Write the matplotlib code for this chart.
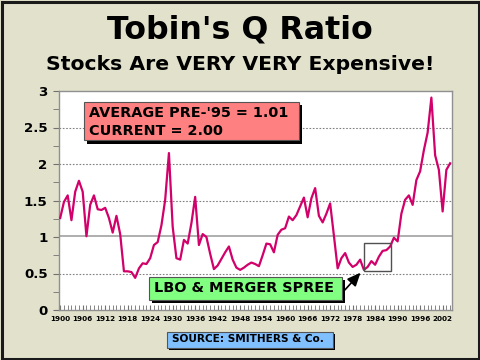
import matplotlib
matplotlib.use("Agg")
import matplotlib.pyplot as plt
from matplotlib.patches import Rectangle
import numpy as np

plt.rcParams["font.family"] = ["DejaVu Sans"]

# ---- data ----
years = list(range(1900, 2005))
q_ratio = [
    1.26, 1.48, 1.57, 1.23, 1.62, 1.77, 1.62, 1.01, 1.44, 1.57,
    1.38, 1.37, 1.40, 1.26, 1.06, 1.29, 1.04, 0.53, 0.53, 0.52,
    0.44, 0.57, 0.64, 0.63, 0.71, 0.89, 0.93, 1.16, 1.51, 2.15,
    1.14, 0.71, 0.69, 0.96, 0.91, 1.19, 1.55, 0.89, 1.04, 1.00,
    0.77, 0.56, 0.61, 0.70, 0.79, 0.87, 0.69, 0.58, 0.55, 0.58,
    0.62, 0.65, 0.63, 0.60, 0.75, 0.91, 0.90, 0.79, 1.03, 1.10,
    1.12, 1.28, 1.23, 1.30, 1.42, 1.54, 1.27, 1.53, 1.67, 1.29,
    1.20, 1.32, 1.46, 1.02, 0.57, 0.71, 0.78, 0.65, 0.59, 0.62,
    0.69, 0.55, 0.59, 0.67, 0.62, 0.73, 0.81, 0.82, 0.87, 0.99,
    0.94, 1.32, 1.51, 1.57, 1.44, 1.78, 1.90, 2.19, 2.43, 2.91,
    2.12, 1.92, 1.35, 1.92, 2.01,
]
x_tick_years = list(range(1900, 2003, 6))
y_ticks = [0, 0.5, 1, 1.5, 2, 2.5, 3]
y_tick_labels = ["0", "0.5", "1", "1.5", "2", "2.5", "3"]
average_pre95 = 1.01
current = 2.00
lbo_box_years = (1981, 1988.3)
lbo_box_values = (0.534, 0.914)

W, H = 480, 360
fig = plt.figure(figsize=(4.8, 3.6), dpi=100)
bg = "#E2E2CC"
fig.patch.set_facecolor(bg)

def fx(px):
    return px / W

def fy(py):
    return 1 - py / H

ax = fig.add_axes([fx(58.7), fy(310), fx(452) - fx(58.7), fy(91) - fy(310)])
ax.set_facecolor("white")

# grid lines
for g in [0.5, 1.5, 2, 2.5]:
    ax.axhline(g, color="#808080", lw=0.8, ls=(0, (1.5, 1.5)), zorder=1)
ax.axhline(average_pre95, color="#A8A8A8", lw=1.3, zorder=1)

ax.plot(years, q_ratio, color="#D1006A", lw=1.6, zorder=3, solid_joinstyle="round")

ax.add_patch(Rectangle((lbo_box_years[0], lbo_box_values[0]),
                       lbo_box_years[1] - lbo_box_years[0],
                       lbo_box_values[1] - lbo_box_values[0],
                       fill=False, edgecolor="#505050", lw=1.0, zorder=4))

ax.set_xlim(1899.6, 2004.5)
ax.set_ylim(0, 3)
ax.set_yticks(y_ticks)
ax.set_yticklabels(y_tick_labels, fontweight="bold", fontsize=9.6)
ax.set_yticks(np.arange(0, 3.01, 0.25), minor=True)
ax.set_xticks(x_tick_years)
ax.set_xticklabels([str(y) for y in x_tick_years], fontweight="bold", fontsize=5.2)
ax.set_xticks(years, minor=True)
ax.tick_params(axis="y", which="both", direction="out", length=4, color="#707070", pad=4)
ax.tick_params(axis="x", which="both", direction="in", length=3.5, color="#707070", pad=4)
for s in ax.spines.values():
    s.set_color("#909090")
    s.set_linewidth(1.0)

# titles
fig.text(0.5, fy(30), "Tobin's Q Ratio", ha="center", va="center",
         fontsize=22.8, fontweight="bold", color="black")
fig.text(0.5, fy(64), "Stocks Are VERY VERY Expensive!", ha="center", va="center",
         fontsize=14.7, fontweight="bold", color="black")

def shadow_box(x0, y0, x1, y1, color, off=3):
    fig.add_artist(Rectangle((fx(x0 + off), fy(y1 + off)), fx(x1 - x0), fy(y0) - fy(y1),
                             transform=fig.transFigure, facecolor="black", edgecolor="none", zorder=5))
    fig.add_artist(Rectangle((fx(x0), fy(y1)), fx(x1 - x0), fy(y0) - fy(y1),
                             transform=fig.transFigure, facecolor=color, edgecolor="#555555",
                             lw=0.8, zorder=6))

# red average box
shadow_box(84, 101.5, 299, 140.5, "#FF8080")
fig.text(fx(89), fy(113), f"AVERAGE PRE-'95 = {average_pre95:.2f}", ha="left", va="center",
         fontsize=10.4, fontweight="bold", zorder=7)
fig.text(fx(89), fy(131), f"CURRENT = {current:.2f}", ha="left", va="center",
         fontsize=10.4, fontweight="bold", zorder=7)

# green LBO box
shadow_box(149, 276.5, 342, 299.5, "#80FF80")
fig.text(fx(243.5), fy(288.5), "LBO & MERGER SPREE", ha="center", va="center",
         fontsize=10.4, fontweight="bold", zorder=7)

# arrow
ax.annotate("", xy=(lbo_box_years[0] - 0.4, lbo_box_values[0] + 0.005), xycoords="data",
            xytext=(343, H - 292), textcoords="figure pixels",
            arrowprops=dict(arrowstyle="-|>,head_length=0.8,head_width=0.35",
                            color="black", lw=1.2), zorder=8, annotation_clip=False)

# source box
shadow_box(167, 331.5, 333, 347.5, "#80C0FF", off=2)
fig.text(fx(248), fy(339.5), "SOURCE: SMITHERS & Co.", ha="center", va="center",
         fontsize=7.6, fontweight="bold", zorder=7)

# outer frame
fig.add_artist(Rectangle((fx(1.5), fy(358.5)), fx(477), fy(1.5) - fy(358.5),
                         transform=fig.transFigure, fill=False, edgecolor="#1A1A1A", lw=2.2, zorder=10))

fig.savefig("out.png", dpi=100, facecolor=bg)
